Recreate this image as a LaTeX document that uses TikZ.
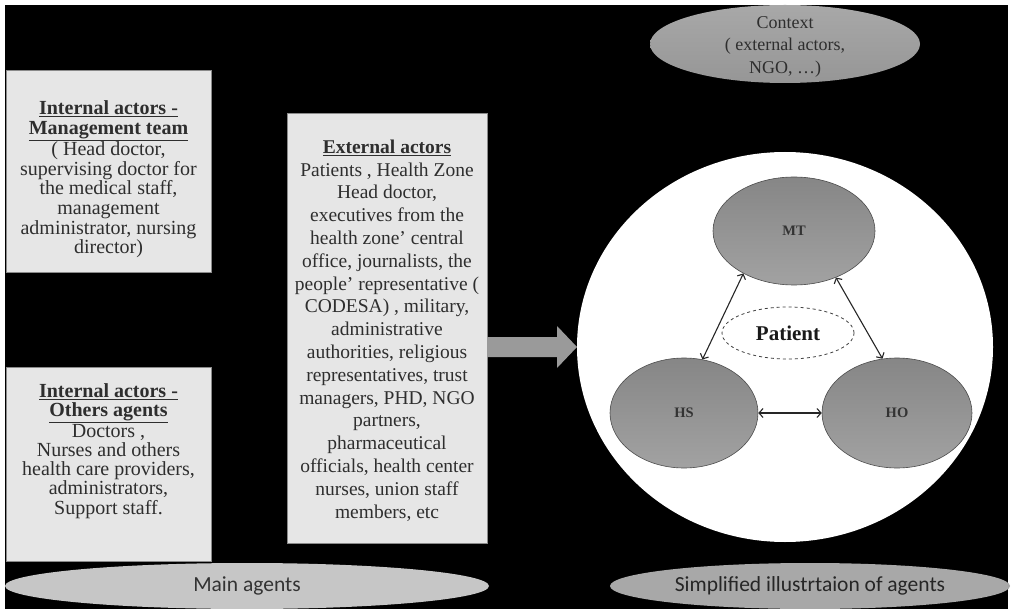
\documentclass[tikz,border=0pt]{standalone}
\usepackage{fontspec}
\setmainfont{Liberation Serif}
\newfontfamily\calib{Carlito}
\usetikzlibrary{shapes.geometric,arrows.meta}
\definecolor{boxfill}{HTML}{E6E6E6}
\definecolor{boxline}{HTML}{8A8A8A}
\definecolor{boxtext}{HTML}{2E2E2E}
\definecolor{ctxtop}{HTML}{A8A8A8}
\definecolor{ctxbot}{HTML}{969696}
\definecolor{mainfill}{HTML}{C6C6C6}
\definecolor{simpfill}{HTML}{A8A8A8}
\definecolor{agtop}{HTML}{868686}
\definecolor{agbot}{HTML}{A2A2A2}
\definecolor{arrowgray}{HTML}{9A9A9A}
\begin{document}
\begin{tikzpicture}[x=1pt,y=-1pt,
  boxnode/.style={rectangle,draw=boxline,line width=0.8pt,fill=boxfill,inner sep=0pt},
  boxtxt/.style={align=center,text=boxtext,inner sep=0pt},
  greyell/.style={ellipse,inner sep=0pt},
  agent/.style={ellipse,inner sep=0pt,draw=black!70,line width=0.6pt,top color=agtop,bottom color=agbot,
    font=\fontsize{14.5}{16}\selectfont\bfseries,text=black!80},
  dbl/.style={<->,>={Straight Barb[length=4pt,width=9pt]},line width=1.1pt,black!85}
]
\useasboundingbox (0,0) rectangle (1011,609);
\fill[white] (0,0) rectangle (1011,609);
\fill[black] (5,5) rectangle (1008,609);

% left boxes
\node[boxnode,minimum width=205pt,minimum height=202pt] (b1) at (108.5,171) {};
\node[boxtxt,font=\fontsize{20}{19.6}\selectfont] (t1) at (108.5,179.5)
  {\underline{\textbf{Internal actors -}}\\ \underline{\textbf{Management team}}\\
   ( Head doctor,\\ supervising doctor for\\ the medical staff,\\ management\\
   administrator, nursing\\ director)};

\node[boxnode,minimum width=205pt,minimum height=194pt] (b2) at (108.5,464) {};
\node[boxtxt,font=\fontsize{20}{19.2}\selectfont] (t2) at (108.5,451)
  {\underline{\textbf{Internal actors -}}\\ \underline{\textbf{Others agents}}\\
   Doctors ,\\ Nurses and others\\ health care providers,\\ administrators,\\ Support staff.};

\node[boxnode,minimum width=200pt,minimum height=430pt] (b3) at (387,328) {};
\node[boxtxt,font=\fontsize{19.5}{22.8}\selectfont] (t3) at (387,330.5)
  {\underline{\textbf{External actors}}\\ Patients , Health Zone\\ Head doctor,\\
   executives from the\\ health zone’ central\\ office, journalists, the\\
   people’ representative (\\ CODESA) , military,\\ administrative\\
   authorities, religious\\ representatives, trust\\ managers, PHD, NGO\\
   partners,\\ pharmaceutical\\ officials, health center\\ nurses, union staff\\ members, etc};

% block arrow
\fill[arrowgray] (487,337) -- (557,337) -- (557,326) -- (577,347) -- (557,368) -- (557,357) -- (487,357) -- cycle;

% big circle
\node[greyell,fill=white,minimum width=416pt,minimum height=390pt] (circ) at (785,347) {};

% context
\node[greyell,top color=ctxtop,bottom color=ctxbot,minimum width=270pt,minimum height=78pt] (ctx) at (785,44) {};
\node[align=center,inner sep=0pt,font=\fontsize{18}{22.5}\selectfont,text=black!82] (ctxt) at (785,46.5)
  {Context\\ ( external actors,\\ NGO, …)};

% agents
\node[agent,minimum width=162pt,minimum height=108pt] (MT) at (794,231) {MT};
\node[agent,minimum width=148pt,minimum height=110pt] (HS) at (684,413) {HS};
\node[agent,minimum width=150pt,minimum height=110pt] (HO) at (897,413) {HO};
\node[ellipse,draw=black!75,dashed,line width=0.8pt,minimum width=132pt,minimum height=52pt,inner sep=0pt,
  font=\fontsize{21}{24}\selectfont\bfseries,text=black!90] (pat) at (788,333) {Patient};

\draw[dbl] (MT.220.6) -- (HS.71.9);
\draw[dbl] (MT.312) -- (HO.105);
\draw[dbl] (HS.east) -- (HO.west);

% bottom labels
\node[greyell,fill=mainfill,minimum width=484pt,minimum height=46pt,
  font=\calib\fontsize{21.5}{24}\selectfont,text=black!80] (main) at (247,586) {Main agents};
\node[greyell,fill=simpfill,minimum width=400pt,minimum height=46pt,
  font=\calib\fontsize{21.5}{24}\selectfont,text=black!85] (simp) at (810,586) {Simplified illustrtaion of agents};
\end{tikzpicture}
\end{document}
